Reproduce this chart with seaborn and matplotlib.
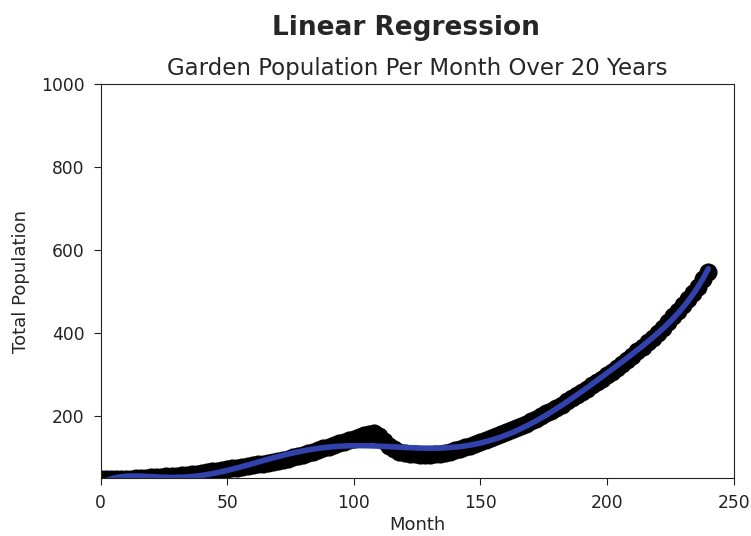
import numpy as np
import pandas as pd
import matplotlib
matplotlib.use("Agg")
import matplotlib.pyplot as plt
import seaborn as sns
import warnings
warnings.filterwarnings("ignore")

months = list(range(0, 241, 2))
population = [
    47, 47, 47, 48, 48, 49, 49, 50, 50, 51,
    52, 52, 53, 54, 55, 56, 57, 58, 60, 61,
    63, 64, 66, 68, 70, 72, 74, 75, 77, 79,
    81, 83, 85, 87, 89, 91, 94, 97, 100, 103,
    106, 110, 114, 118, 122, 126, 130, 134, 137, 141,
    145, 149, 153, 156, 159, 152, 140, 128, 120, 114,
    110, 108, 107, 106, 106, 106, 107, 109, 111, 114,
    117, 120, 124, 128, 133, 138, 142, 147, 151, 156,
    161, 166, 171, 176, 181, 187, 193, 200, 206, 213,
    220, 227, 235, 242, 250, 258, 266, 274, 282, 290,
    298, 307, 316, 326, 335, 345, 356, 367, 378, 389,
    400, 413, 427, 441, 454, 467, 481, 496, 512, 529,
    547,
]

df = pd.DataFrame({"Month": months, "Total Population": population})

sns.set_style("ticks")
plt.rcParams["font.family"] = ["DejaVu Sans"]

fig = plt.figure(figsize=(7.51, 5.36), dpi=100)
ax = fig.add_axes([0.134, 0.108, 0.843, 0.735])

sns.regplot(data=df, x="Month", y="Total Population", order=8, ci=None, ax=ax,
            scatter_kws={"color": "black", "s": 170, "alpha": 1, "linewidths": 0},
            line_kws={"color": "#3242ad", "linewidth": 4})

ax.set_xlim(0, 250)
ax.set_ylim(50, 1000)
ax.set_xticks([0, 50, 100, 150, 200, 250])
ax.set_yticks([200, 400, 600, 800, 1000])
ax.tick_params(labelsize=12.3, colors="#222222", length=5, pad=6.5)
for s in ax.spines.values():
    s.set_color("#222222")
    s.set_visible(True)
ax.set_xlabel("Month", fontsize=13, labelpad=3)
ax.set_ylabel("Total Population", fontsize=13, labelpad=8)
ax.set_title("Garden Population Per Month Over 20 Years", fontsize=16.5, pad=6.5)
fig.suptitle("Linear Regression", fontsize=19, fontweight="bold", x=0.541, y=0.972)

fig.savefig("out.png", dpi=100)
